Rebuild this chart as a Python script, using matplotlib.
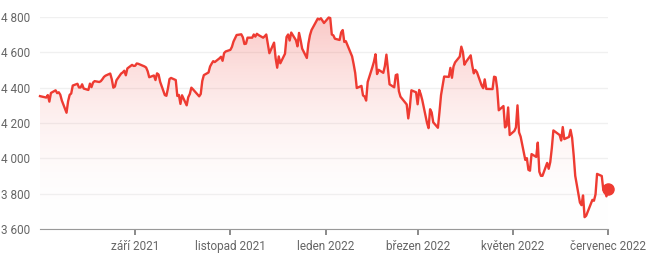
import numpy as np
import pandas as pd
import matplotlib
matplotlib.use("Agg")
import matplotlib.pyplot as plt
import matplotlib.dates as mdates
from matplotlib.colors import LinearSegmentedColormap
from matplotlib.patches import Polygon

plt.rcParams['font.family'] = ['Roboto', 'DejaVu Sans']

# business-day closes, 2 Jul 2021 .. 1 Jul 2022
start = "2021-07-02"
end = "2022-07-01"
holidays = ["2021-07-05", "2021-09-06", "2021-11-25", "2021-12-24", "2022-01-17",
            "2022-02-21", "2022-04-15", "2022-05-30", "2022-06-20"]
values = [
    4352, 4344, 4358, 4321, 4370, 4385, 4369, 4374, 4360, 4327,
    4258, 4323, 4359, 4367, 4412, 4422, 4401, 4401, 4419, 4395,
    4387, 4423, 4403, 4429, 4437, 4432, 4437, 4448, 4461, 4468,
    4480, 4448, 4400, 4406, 4442, 4480, 4486, 4496, 4470, 4509,
    4529, 4523, 4524, 4537, 4535, 4520, 4514, 4493, 4459, 4469,
    4443, 4481, 4474, 4433, 4358, 4354, 4396, 4449, 4455, 4443,
    4353, 4359, 4308, 4357, 4300, 4346, 4364, 4400, 4391, 4361,
    4351, 4364, 4438, 4471, 4486, 4520, 4536, 4550, 4545, 4566,
    4575, 4552, 4596, 4605, 4614, 4631, 4661, 4680, 4698, 4702,
    4685, 4647, 4649, 4683, 4683, 4701, 4689, 4705, 4698, 4683,
    4691, 4701, 4595, 4655, 4567, 4513, 4577, 4538, 4592, 4687,
    4701, 4667, 4712, 4669, 4634, 4710, 4669, 4621, 4568, 4649,
    4697, 4726, 4791, 4786, 4793, 4779, 4766, 4797, 4794, 4701,
    4696, 4677, 4670, 4713, 4726, 4659, 4663, 4577, 4533, 4483,
    4398, 4410, 4356, 4350, 4327, 4432, 4516, 4547, 4589, 4477,
    4501, 4484, 4522, 4587, 4504, 4419, 4402, 4471, 4475, 4380,
    4349, 4305, 4226, 4289, 4385, 4374, 4306, 4387, 4363, 4329,
    4201, 4171, 4278, 4260, 4204, 4173, 4262, 4358, 4412, 4463,
    4461, 4512, 4456, 4520, 4543, 4576, 4632, 4602, 4530, 4546,
    4583, 4525, 4481, 4500, 4488, 4413, 4397, 4447, 4393, 4392,
    4462, 4459, 4394, 4272, 4296, 4175, 4184, 4288, 4132, 4155,
    4175, 4300, 4147, 4123, 3991, 4001, 3935, 3930, 4024, 4008,
    4089, 3924, 3901, 3901, 3974, 3941, 3979, 4058, 4158, 4132,
    4101, 4177, 4109, 4121, 4161, 4116, 4018, 3901, 3750, 3735,
    3790, 3667, 3675, 3765, 3760, 3796, 3912, 3900, 3822, 3819,
    3785, 3825,
]
tick_dates = ["2021-09-01", "2021-11-01", "2022-01-01", "2022-03-01", "2022-05-01", "2022-07-01"]
tick_labels = ["září 2021", "listopad 2021", "leden 2022", "březen 2022", "květen 2022", "červenec 2022"]
y_ticks = [3600, 3800, 4000, 4200, 4400, 4600, 4800]

days = pd.bdate_range(start, end)
days = days[~days.isin(pd.to_datetime(holidays))]
dates = days[:len(values)]
x = mdates.date2num(dates)
y = np.array(values, dtype=float)

red = "#ee3b32"
fig = plt.figure(figsize=(6.5, 2.57), dpi=100)
ax = fig.add_axes([40 / 650, 28 / 257, 568 / 650, 212 / 257])

x0, x1 = x[0], mdates.date2num(pd.Timestamp(end))
ax.set_xlim(x0, x1)
ax.set_ylim(3600, 4800)

# gradient fill under the line
cmap = LinearSegmentedColormap.from_list("g", [(1, 1, 1, 0), (0.93, 0.23, 0.2, 0.28)])
grad = np.linspace(0, 1, 256).reshape(-1, 1)
im = ax.imshow(grad, extent=[x0, x1, 3600, 4800], origin="lower", aspect="auto",
               cmap=cmap, zorder=1)
poly = Polygon(np.column_stack([np.r_[x[0], x, x[-1]], np.r_[3600, y, 3600]]),
               closed=True, facecolor="none", edgecolor="none")
ax.add_patch(poly)
im.set_clip_path(poly)

ax.plot(x, y, color=red, lw=1.7, zorder=3, clip_on=False, solid_joinstyle="round")
ax.plot(x[-1], y[-1], "o", color=red, ms=8, zorder=4, clip_on=False)

ax.set_yticks(y_ticks)
ax.set_yticklabels([f"{v:,}".replace(",", " ") for v in y_ticks])
ax.set_xticks(mdates.date2num(pd.to_datetime(tick_dates)))
ax.set_xticklabels(tick_labels)
ax.grid(axis="y", color="#f0f0f0", lw=1)
ax.set_axisbelow(True)
for s in ["top", "right", "left"]:
    ax.spines[s].set_visible(False)
ax.spines["bottom"].set_color("#999999")
ax.tick_params(axis="y", length=0, pad=7, labelsize=8.5, labelcolor="#666666")
ax.tick_params(axis="x", length=4, width=1.2, color="#777777", pad=4, labelsize=8.5,
               labelcolor="#666666")

fig.savefig("out.png", dpi=100)
